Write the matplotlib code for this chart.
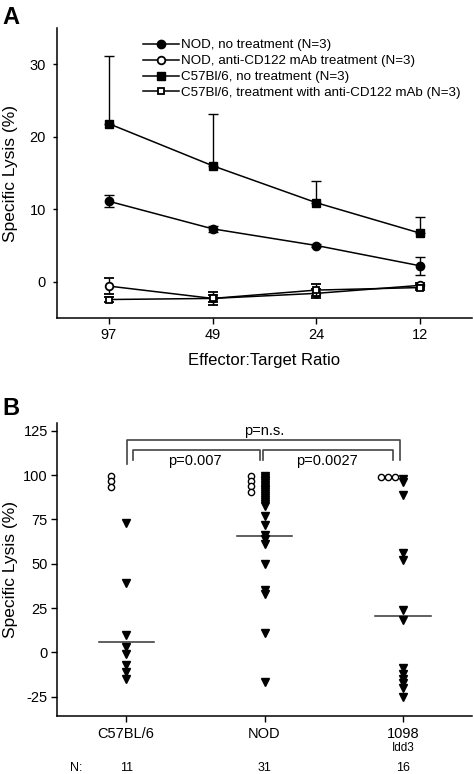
import matplotlib
matplotlib.use("Agg")
import matplotlib.pyplot as plt
from matplotlib.lines import Line2D

plt.rcParams["font.family"] = ["Liberation Sans", "DejaVu Sans"]
plt.rcParams["axes.unicode_minus"] = False

# ---- panel A data ----
ratios = ["97", "49", "24", "12"]
nod_untreated = [11.1, 7.3, 5.0, 2.2]
nod_untreated_err = [0.85, 0.4, 0.2, 1.2]
nod_cd122 = [-0.6, -2.3, -1.6, -0.5]
nod_cd122_err = [1.1, 0.5, 0.6, 0.3]
b6_untreated = [21.8, 16.0, 10.9, 6.7]
b6_untreated_err_up = [9.3, 7.1, 3.0, 2.2]
b6_cd122 = [-2.45, -2.3, -1.15, -0.8]
b6_cd122_err = [0.3, 0.9, 0.8, 0.3]
series_labels = ["NOD, no treatment (N=3)",
                 "NOD, anti-CD122 mAb treatment (N=3)",
                 "C57Bl/6, no treatment (N=3)",
                 "C57Bl/6, treatment with anti-CD122 mAb (N=3)"]

# ---- panel B data ----
strains = ["C57BL/6", "NOD", "1098"]
counts = [11, 31, 16]
b6_tri = [73, 39, 10, 3, -1, -7, -11, -15]
b6_circ = [99.5, 96.5, 93.5]
nod_tri = [99.5, 98.5, 97.5, 96.5, 95.5, 94.5, 93.5, 92.5, 91.5, 90.5, 89.5,
           88, 87, 86, 85, 84, 82.5, 77, 72, 66, 64, 61, 50, 35, 33, 11, -17]
nod_circ = [99.3, 96.5, 93.7, 90.8]
i1098_tri = [98, 96, 89, 56, 52, 24, 18, -9, -12, -15, -17.5, -20, -25]
i1098_circ = [99, 99, 99]
medians = [6, 65.4, 20.5]

fig = plt.figure(figsize=(4.74, 7.74), dpi=100)
W, H = 474, 774

def px_axes(l, t, r, b):
    return fig.add_axes([l / W, 1 - b / H, (r - l) / W, (b - t) / H])

# ================= Panel A =================
ax = px_axes(57, 28, 472, 318)
x = list(range(len(ratios)))
lw = 1.1
ms = 6
eb = dict(color="black", lw=lw, capsize=3.5, elinewidth=1, capthick=1)
ax.errorbar(x, nod_untreated, yerr=nod_untreated_err, marker="o", ms=ms,
            zorder=3, **eb)
ax.errorbar(x, nod_cd122, yerr=nod_cd122_err, marker="o", mfc="white",
            mew=1.3, ms=ms - 0.5, zorder=3, **eb)
ax.errorbar(x, b6_untreated, yerr=[[0] * 4, b6_untreated_err_up], marker="s",
            ms=ms - 0.5, zorder=3, **eb)
ax.errorbar(x, b6_cd122, yerr=b6_cd122_err, marker="s", mfc="white",
            mew=1.3, ms=ms - 1, zorder=4, **eb)

ax.set_xlim(-0.5, 3.5)
ax.set_ylim(-5, 35)
ax.set_xticks(x)
ax.set_xticklabels(ratios)
ax.set_yticks([0, 10, 20, 30])
for s in ["top", "right"]:
    ax.spines[s].set_visible(False)
for s in ["left", "bottom"]:
    ax.spines[s].set_linewidth(1.1)
ax.tick_params(axis="y", labelsize=10.5, length=3, width=1, pad=5)
ax.tick_params(axis="x", labelsize=10.5, length=4, width=1, pad=3)
ax.set_xlabel("Effector:Target Ratio", fontsize=12, va="center")
ax.xaxis.set_label_coords(0.5, -0.145)
ax.set_ylabel("Specific Lysis (%)", fontsize=12.5, va="center")
ax.yaxis.set_label_coords(-0.113, 0.5)

handles = [
    Line2D([], [], color="black", lw=lw, marker="o", ms=ms),
    Line2D([], [], color="black", lw=lw, marker="o", mfc="white", mew=1.3,
           ms=ms - 0.5),
    Line2D([], [], color="black", lw=lw, marker="s", ms=ms - 0.5),
    Line2D([], [], color="black", lw=lw, marker="s", mfc="white", mew=1.3,
           ms=ms - 1),
]
ax.legend(handles, series_labels, loc="upper left",
          bbox_to_anchor=(143 / W, 1 - 39 / H), bbox_transform=fig.transFigure,
          frameon=False, fontsize=9.6, handlelength=2.7, handletextpad=0.15,
          labelspacing=0.27, borderpad=0, borderaxespad=0)
fig.text(2 / W, 1 - 17 / H, "A", fontsize=17, fontweight="bold", va="center")

# ================= Panel B =================
bx = px_axes(57, 423, 472, 716)
tri_groups = [b6_tri, nod_tri, i1098_tri]
for i, vals in enumerate(tri_groups):
    bx.plot([i] * len(vals), vals, linestyle="none", marker="v", color="black",
            ms=6, zorder=3)
circ = dict(linestyle="none", marker="o", mfc="white", mec="black", mew=1,
            ms=4.5, zorder=3)
bx.plot([-0.11] * len(b6_circ), b6_circ, **circ)
bx.plot([0.9] * len(nod_circ), nod_circ, **circ)
bx.plot([1.845, 1.89, 1.94], i1098_circ, **circ)
for i, m in enumerate(medians):
    bx.plot([i - 0.2, i + 0.2], [m, m], color="#333333", lw=1.1, zorder=2)

br = dict(color="#444444", lw=1.2, clip_on=False)
bx.plot([0.007, 0.007, 1.976, 1.976], [106.3, 120.1, 120.1, 108.8], **br)
bx.plot([0.053, 0.053, 0.965, 0.965], [108.8, 114.0, 114.0, 108.8], **br)
bx.plot([0.988, 0.988, 1.93, 1.93], [108.8, 114.0, 114.0, 108.8], **br)
bx.text(1.0, 120.8, "p=n.s.", ha="center", va="bottom", fontsize=10.5)
bx.text(0.494, 108.3, "p=0.007", ha="center", va="center", fontsize=10.5)
bx.text(1.452, 108.3, "p=0.0027", ha="center", va="center", fontsize=10.5)

bx.set_xlim(-0.5, 2.5)
bx.set_ylim(-36, 129.5)
bx.set_xticks(range(len(strains)))
bx.set_xticklabels(strains)
bx.set_yticks([-25, 0, 25, 50, 75, 100, 125])
for s in ["top", "right"]:
    bx.spines[s].set_visible(False)
for s in ["left", "bottom"]:
    bx.spines[s].set_linewidth(1.1)
bx.tick_params(axis="y", labelsize=10.5, length=4, width=1, pad=2.5)
bx.tick_params(axis="x", labelsize=10.5, length=4, width=1, pad=4)
bx.set_ylabel("Specific Lysis (%)", fontsize=12.5, va="center")
bx.yaxis.set_label_coords(-0.113, 0.5)

tr = bx.get_xaxis_transform()
bx.text(2, -0.109, "Idd3", transform=tr, ha="center", va="center", fontsize=8.5)
bx.text((77 - 126.7) / 138.3, -0.1775, "N:", transform=tr, ha="center",
        va="center", fontsize=9)
for i, n in enumerate(counts):
    bx.text(i, -0.1775, str(n), transform=tr, ha="center", va="center",
            fontsize=9)
fig.text(2 / W, 1 - 408 / H, "B", fontsize=17, fontweight="bold", va="center")

fig.savefig("out.png", dpi=100)
